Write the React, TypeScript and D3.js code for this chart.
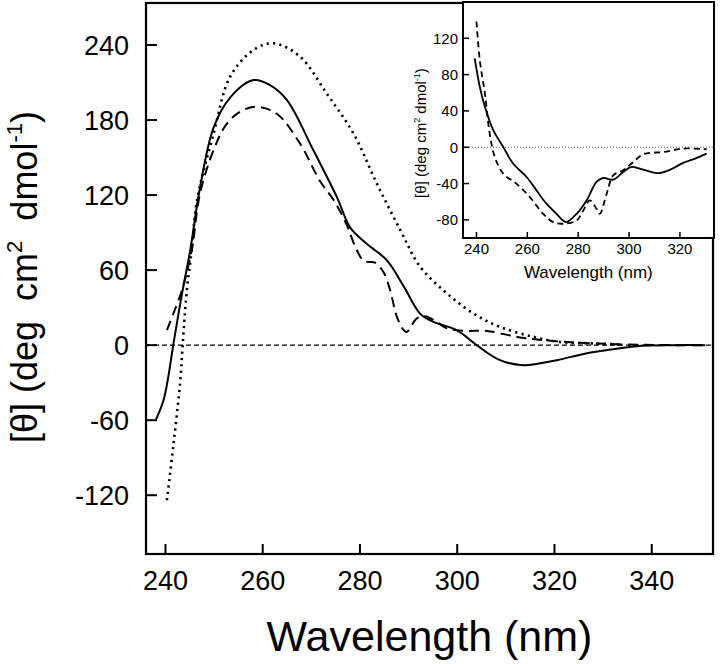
import React from "react";
import * as d3 from "d3";

// ---------- Main chart data (wavelength nm, [θ]) ----------
const mainSolid: [number, number][] = [
  [238, -60], [239.6, -44], [240.6, -25], [241.6, 0], [243.4, 41], [245.1, 76],
  [247.1, 126], [249.9, 174], [253.3, 198], [258.1, 212], [261.5, 208], [265, 196],
  [270.4, 156], [275.3, 118], [278, 94], [281.4, 81], [285.5, 68], [289, 47],
  [292.4, 25], [295.1, 18.6], [299.9, 12], [304, 0], [308.8, -12], [313.6, -16],
  [320.5, -12], [326, -7], [331.5, -3.5], [338, -0.5], [345, 0], [351, 0],
];
const mainDashed: [number, number][] = [
  [240.3, 12], [241.6, 25], [243.4, 44], [245.4, 76], [247.1, 121], [249.9, 156],
  [252.6, 177], [255.5, 187], [258.8, 190.6], [262.9, 185], [267.7, 161], [271.8, 131],
  [274.6, 116], [277.3, 96], [279, 79], [280.6, 68], [281.6, 66.6], [283.1, 66],
  [284.8, 58.6], [286.2, 44], [287.6, 22.6], [289, 12], [289.6, 10.6], [291.7, 21.4],
  [293.4, 23.2], [295.8, 18.6], [297.9, 13.4], [302, 11.4], [306.1, 11.4], [312.3, 6.6],
  [317.7, 4], [325, 2], [335, 0.5], [345, 0], [351, 0],
];
const mainDotted: [number, number][] = [
  [240.3, -124], [241.6, -81], [243, -30.6], [243.7, 9.4], [244.4, 44], [245.4, 76],
  [246.5, 116], [249.9, 169], [253.3, 214.6], [258.1, 236], [262.2, 241.4], [267.7, 230.6],
  [273.2, 201], [278.7, 169], [283.5, 129], [288.3, 92], [292.4, 62.6], [297.9, 41.4],
  [303.3, 25.4], [308.8, 14.6], [315.7, 6.6], [321.2, 2.5], [327, 1.5], [334, 0.5],
];

// ---------- Inset data ----------
const insetSolid: [number, number][] = [
  [239.3, 98], [241.3, 66.7], [243.3, 44.6], [246.6, 18.8], [250.5, 0.4], [254.4, -18],
  [259.7, -32.8], [263.6, -47.5], [267.5, -62.2], [271, -72], [274.1, -80.7], [275.4, -82.5],
  [279.4, -73.3], [283.3, -58.6], [287.2, -38.3], [289.8, -33.9], [293.8, -35.7], [297.7, -27.3],
  [301, -21.7], [305.6, -24.7], [309.5, -27.8], [312.2, -28.4], [316, -25], [321.3, -17.3],
  [326, -12.5], [330.5, -7],
];
const insetDashed: [number, number][] = [
  [240, 138.5], [241.3, 96], [243.3, 59.3], [245.2, 15.1], [247.2, -10.7], [250.5, -29.1],
  [255.7, -40.1], [261, -54.9], [266.2, -73.3], [270.2, -82.5], [274.1, -84.3], [279.4, -80.7],
  [282, -69.6], [284.6, -58.6], [287.2, -67.8], [288.5, -73.3], [291.2, -51.2], [293.8, -30.9],
  [297.7, -25.4], [301.7, -16.2], [305.6, -7.7], [313.5, -5.2], [321.3, -1.5], [330.5, -2.2],
];

const mainXTicks = [240, 260, 280, 300, 320, 340];
const mainYTicks = [-120, -60, 0, 60, 120, 180, 240];
const insetXTicks = [240, 260, 280, 300, 320];
const insetYTicks = [-80, -40, 0, 40, 80, 120];

const FONT = "'Liberation Sans', Arial, Helvetica, sans-serif";

export default function App() {
  const W = 720, H = 664;
  const mx = d3.scaleLinear().domain([236, 352.6]).range([146, 713]);
  const my = d3.scaleLinear().domain([-167, 273.6]).range([554, 3]);
  const ix = d3.scaleLinear().domain([234.7, 333.4]).range([463, 714]);
  const iy = d3.scaleLinear().domain([-100, 160]).range([238, 2]);

  const mLine = d3.line<[number, number]>()
    .x((d) => mx(d[0])).y((d) => my(d[1]))
    .curve(d3.curveCatmullRom.alpha(0.5));
  const iLine = d3.line<[number, number]>()
    .x((d) => ix(d[0])).y((d) => iy(d[1]))
    .curve(d3.curveCatmullRom.alpha(0.5));

  const [x0, x1] = mx.range();
  const [y0, y1] = my.range();

  return (
    <svg width={W} height={H} style={{ position: "absolute", left: 0, top: 0, background: "#fff" }}
      fontFamily={FONT}>
      <rect x={0} y={0} width={W} height={H} fill="#fff" />
      {/* zero line */}
      <line x1={x0} x2={x1} y1={my(0)} y2={my(0)} stroke="#000" strokeWidth={1.3} strokeDasharray="5,3" />
      {/* main curves */}
      <path d={mLine(mainDotted) || ""} fill="none" stroke="#000" strokeWidth={2.6} strokeDasharray="2.2,4.2" />
      <path d={mLine(mainDashed) || ""} fill="none" stroke="#000" strokeWidth={2} strokeDasharray="10,6" />
      <path d={mLine(mainSolid) || ""} fill="none" stroke="#000" strokeWidth={2} />

      {/* main frame */}
      <rect x={x0} y={y1} width={x1 - x0} height={y0 - y1} fill="none" stroke="#000" strokeWidth={2.2} />
      {mainXTicks.map((t) => (
        <g key={"mx" + t}>
          <line x1={mx(t)} x2={mx(t)} y1={y0} y2={y0 - 10} stroke="#000" strokeWidth={2} />
          <text x={mx(t)} y={590} textAnchor="middle" fontSize={27}>{t}</text>
        </g>
      ))}
      {mainYTicks.map((t) => (
        <g key={"my" + t}>
          <line x1={x0} x2={x0 + 11} y1={my(t)} y2={my(t)} stroke="#000" strokeWidth={2} />
          <text x={129} y={my(t)} dy="0.36em" textAnchor="end" fontSize={27}>{t}</text>
        </g>
      ))}
      <text x={(x0 + x1) / 2} y={651} textAnchor="middle" fontSize={43}>Wavelength (nm)</text>
      <text transform={`translate(37,277) rotate(-90)`} textAnchor="middle" fontSize={36}
        style={{ whiteSpace: "pre" }}>
        <tspan>{"[θ] (deg  cm"}</tspan>
        <tspan fontSize={22} dy={-15}>2</tspan>
        <tspan dy={15}>{"  dmol"}</tspan>
        <tspan fontSize={22} dy={-15}>-1</tspan>
        <tspan dy={15}>)</tspan>
      </text>

      {/* inset */}
      <rect x={463} y={2} width={714 - 463} height={236} fill="#fff" />
      <line x1={ix.range()[0]} x2={ix.range()[1]} y1={iy(0)} y2={iy(0)} stroke="#555" strokeWidth={0.9} strokeDasharray="1,2" />
      <path d={iLine(insetDashed) || ""} fill="none" stroke="#000" strokeWidth={1.8} strokeDasharray="6,4" />
      <path d={iLine(insetSolid) || ""} fill="none" stroke="#000" strokeWidth={1.8} />
      <rect x={463} y={2} width={714 - 463} height={236} fill="none" stroke="#000" strokeWidth={2} />
      {insetXTicks.map((t) => (
        <g key={"ix" + t}>
          <line x1={ix(t)} x2={ix(t)} y1={238} y2={232} stroke="#000" strokeWidth={1.5} />
          <text x={ix(t)} y={253.5} textAnchor="middle" fontSize={15}>{t}</text>
        </g>
      ))}
      {insetYTicks.map((t) => (
        <g key={"iy" + t}>
          <line x1={463} x2={469} y1={iy(t)} y2={iy(t)} stroke="#000" strokeWidth={1.5} />
          <text x={458} y={iy(t)} dy="0.36em" textAnchor="end" fontSize={15}>{t}</text>
        </g>
      ))}
      <text x={ix(284)} y={278} textAnchor="middle" fontSize={17}>Wavelength (nm)</text>
      <text transform={`translate(426,133) rotate(-90)`} textAnchor="middle" fontSize={15}
        style={{ whiteSpace: "pre" }}>
        <tspan>{"[θ] (deg cm"}</tspan>
        <tspan fontSize={9} dy={-6}>2</tspan>
        <tspan dy={6}>{" dmol"}</tspan>
        <tspan fontSize={9} dy={-6}>-1</tspan>
        <tspan dy={6}>)</tspan>
      </text>
    </svg>
  );
}
